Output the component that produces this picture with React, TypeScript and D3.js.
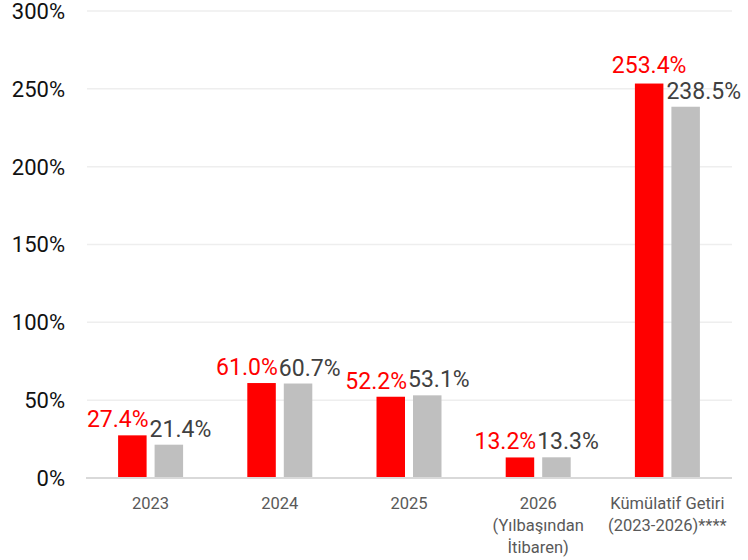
import { scaleBand, scaleLinear } from "d3";

const categories = ["2023", "2024", "2025", "2026\n(Yılbaşından\nİtibaren)", "Kümülatif Getiri\n(2023-2026)****"];
const fundValues = [27.4, 61.0, 52.2, 13.2, 253.4];
const benchValues = [21.4, 60.7, 53.1, 13.3, 238.5];
const yTicks = [0, 50, 100, 150, 200, 250, 300];

const width = 748;
const height = 560;
const plotLeft = 86;
const plotRight = 732;
const plotTop = 11;
const plotBottom = 478;
const barWidth = 28.5;
const barGap = 8;
const fontFamily = "Roboto, 'Liberation Sans', sans-serif";

function App() {
  const x = scaleBand<number>()
    .domain(categories.map((_, i) => i))
    .range([plotLeft, plotRight]);
  const y = scaleLinear().domain([0, 300]).range([plotBottom, plotTop]);

  const fmt = (v: number) => `${v.toFixed(1)}%`;

  return (
    <svg
      width={width}
      height={height}
      style={{ position: "absolute", left: 0, top: 0, fontFamily }}
    >
      {yTicks.map((t) => (
        <g key={t}>
          {t > 0 ? (
            <line
              x1={plotLeft + 1}
              x2={plotRight}
              y1={y(t)}
              y2={y(t)}
              stroke="#eeeeee"
              strokeWidth={1.5}
            />
          ) : null}
          <text
            x={65}
            y={y(t)}
            dy="0.36em"
            textAnchor="end"
            fontSize={22}
            fill="#111111"
          >
            {t}%
          </text>
        </g>
      ))}
      {categories.map((cat, i) => {
        const center = (x(i) ?? 0) + x.bandwidth() / 2;
        const redX = center - barGap / 2 - barWidth;
        const grayX = center + barGap / 2;
        const redTop = y(fundValues[i]);
        const grayTop = y(benchValues[i]);
        // labels crowd together unless the heights differ a lot
        const apart = Math.abs(redTop - grayTop) > 20;
        return (
          <g key={cat}>
            <rect x={redX} y={redTop} width={barWidth} height={plotBottom - redTop} fill="#ff0000" />
            <rect x={grayX} y={grayTop} width={barWidth} height={plotBottom - grayTop} fill="#bfbfbf" />
            <text
              x={apart ? redX + barWidth / 2 : center - 2}
              y={redTop - (apart ? 11 : 8)}
              textAnchor={apart ? "middle" : "end"}
              fontSize={23}
              fill="#ff0000"
            >
              {fmt(fundValues[i])}
            </text>
            <text
              x={center - 1}
              y={grayTop - 8}
              textAnchor="start"
              fontSize={23}
              fill="#404040"
            >
              {fmt(benchValues[i])}
            </text>
            <text textAnchor="middle" fontSize={16.5} fill="#595959">
              {cat.split("\n").map((ln, j) => (
                <tspan key={j} x={center} y={509 + j * 22}>
                  {ln}
                </tspan>
              ))}
            </text>
          </g>
        );
      })}
      <line x1={plotLeft} x2={plotRight} y1={plotBottom} y2={plotBottom} stroke="#d9d9d9" strokeWidth={2} />
    </svg>
  );
}

export default App;
